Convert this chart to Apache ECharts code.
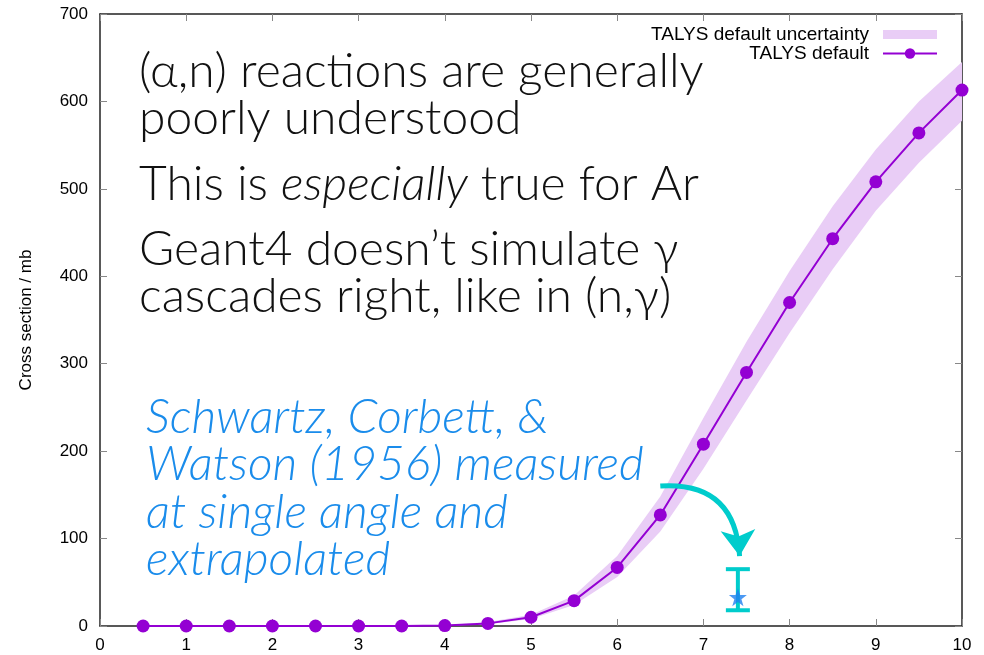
<!DOCTYPE html>
<html>
<head>
<meta charset="utf-8">
<script src="https://cdn.jsdelivr.net/npm/echarts@6/dist/echarts.min.js"></script>
<style>
  html, body { margin: 0; padding: 0; background: #fff; }
  #chart { width: 984px; height: 655px; }
</style>
</head>
<body>
<div id="chart"></div>
<script>
// energies (MeV) and TALYS cross sections (mb)
const energies = [0.5, 1, 1.5, 2, 2.5, 3, 3.5, 4, 4.5, 5, 5.5, 6, 6.5, 7, 7.5, 8, 8.5, 9, 9.5, 10];
const talys = [0, 0, 0, 0, 0, 0, 0, 0.5, 3, 10, 29, 67, 127, 208, 290, 370, 443, 508, 564, 613];
const bandLow = [0, 0, 0, 0, 0, 0, 0, 0.3, 2, 8, 24, 56, 108, 180, 258, 335, 408, 475, 530, 578];
const bandHigh = [0, 0, 0, 0, 0, 0, 0.2, 0.8, 4.5, 13, 35, 80, 148, 238, 325, 406, 480, 545, 600, 645];
// Schwartz, Corbett & Watson point: [energy, value, low, high]
const swPoint = [7.4, 33, 18, 65];
// arrow from the note to the measurement
const arrowPath = [[6.5, 160], [7.42, 80]];
const xTicks = [0, 10, 1];
const yTicks = [0, 700, 100];

const chart = echarts.init(document.getElementById('chart'));

const bandData = energies.map((e, i) => [e, bandLow[i], bandHigh[i]]);
const lineData = energies.map((e, i) => [e, talys[i]]);

const starPath = 'path://M12,0 L14.9,8.1 L23.4,8.1 L16.5,13.1 L19.1,21.2 L12,16.2 L4.9,21.2 L7.5,13.1 L0.6,8.1 L9.1,8.1 Z';
const axisFont = 'Liberation Sans';
const bandColor = '#e9cdf6';
const bigFont = '300 48px Lato';
const bigItalic = 'italic 300 48px Lato';

function axisBase(pos, show) {
  return {
    axisLine: { show: true, onZero: false, lineStyle: { color: '#222', width: 1.5 } },
    axisTick: { show: true, inside: true, length: 7, lineStyle: { color: '#888', width: 1 } },
    axisLabel: { show: show },
    splitLine: { show: false },
    position: pos
  };
}

const option = {
  animation: false,
  backgroundColor: '#fff',
  grid: { left: 100, right: 22, top: 14, bottom: 29 },
  legend: {
    right: 41,
    top: 20,
    orient: 'vertical',
    align: 'right',
    itemGap: 0,
    itemWidth: 54,
    itemHeight: 13,
    textStyle: { fontFamily: axisFont, fontSize: 19, color: '#000', padding: [0, 9, 0, 0] },
    data: [
      { name: 'TALYS default uncertainty', icon: 'path://M0,0 L0,0 M0,2 L54,2 L54,11 L0,11 Z M54,13 L54,13', itemStyle: { color: bandColor } },
      { name: 'TALYS default' }
    ]
  },
  xAxis: [
    Object.assign(axisBase('bottom', true), {
      type: 'value', min: xTicks[0], max: xTicks[1], interval: xTicks[2],
      axisLabel: { color: '#000', fontFamily: axisFont, fontSize: 17, margin: 11 }
    }),
    Object.assign(axisBase('top', false), {
      type: 'value', min: xTicks[0], max: xTicks[1], interval: xTicks[2]
    })
  ],
  yAxis: [
    Object.assign(axisBase('left', true), {
      type: 'value', min: yTicks[0], max: yTicks[1], interval: yTicks[2],
      name: 'Cross section / mb', nameLocation: 'middle', nameGap: 65, nameRotate: 90,
      nameTextStyle: { fontFamily: axisFont, fontSize: 17, color: '#000' },
      axisLabel: { color: '#000', fontFamily: axisFont, fontSize: 17, margin: 12 }
    }),
    Object.assign(axisBase('right', false), {
      type: 'value', min: yTicks[0], max: yTicks[1], interval: yTicks[2]
    })
  ],
  series: [
    {
      name: 'TALYS default uncertainty',
      type: 'custom',
      data: bandData,
      itemStyle: { color: bandColor },
      silent: true,
      renderItem: function (params, api) {
        if (params.dataIndex !== 0) return;
        const upper = bandData.map(d => api.coord([d[0], d[2]]));
        const lower = bandData.map(d => api.coord([d[0], d[1]])).reverse();
        return {
          type: 'polygon',
          shape: { points: upper.concat(lower) },
          style: { fill: bandColor }
        };
      },
      z: 1
    },
    {
      name: 'TALYS default',
      type: 'line',
      data: lineData,
      symbol: 'circle',
      symbolSize: 13,
      lineStyle: { color: '#9400d3', width: 2 },
      itemStyle: { color: '#9400d3' },
      z: 3
    },
    {
      name: 'arrow',
      type: 'lines',
      coordinateSystem: 'cartesian2d',
      polyline: false,
      symbol: ['none', 'arrow'],
      symbolSize: 26,
      lineStyle: { color: '#00cccc', width: 5, curveness: 0.5, opacity: 1 },
      data: [{ coords: arrowPath }],
      z: 4
    },
    {
      name: 'errbar',
      type: 'custom',
      data: [swPoint],
      renderItem: function (params, api) {
        const lo = api.coord([api.value(0), api.value(2)]);
        const hi = api.coord([api.value(0), api.value(3)]);
        const st = { stroke: '#00cccc', lineWidth: 4 };
        return {
          type: 'group',
          children: [
            { type: 'line', shape: { x1: lo[0], y1: lo[1], x2: hi[0], y2: hi[1] }, style: st },
            { type: 'line', shape: { x1: lo[0] - 12, y1: lo[1], x2: lo[0] + 12, y2: lo[1] }, style: st },
            { type: 'line', shape: { x1: hi[0] - 12, y1: hi[1], x2: hi[0] + 12, y2: hi[1] }, style: st }
          ]
        };
      },
      z: 4
    },
    {
      name: 'Schwartz',
      type: 'scatter',
      data: [[swPoint[0], swPoint[1]]],
      symbol: starPath,
      symbolSize: 18,
      itemStyle: { color: '#1e7ff0' },
      z: 5
    }
  ],
  graphic: [
    { type: 'text', x: 139, y: 72, style: { text: '(α,n) reactions are generally', font: bigFont, fill: '#111', verticalAlign: 'middle' } },
    { type: 'text', x: 139, y: 119, style: { text: 'poorly understood', font: bigFont, fill: '#111', verticalAlign: 'middle' } },
    {
      type: 'text', x: 139, y: 185,
      style: {
        text: 'This is {i|especially} true for Ar', font: bigFont, fill: '#111', verticalAlign: 'middle',
        rich: { i: { font: bigItalic, fill: '#111' } }
      }
    },
    { type: 'text', x: 139, y: 250, style: { text: 'Geant4 doesn’t simulate γ', font: bigFont, fill: '#111', verticalAlign: 'middle' } },
    { type: 'text', x: 139, y: 297, style: { text: 'cascades right, like in (n,γ)', font: bigFont, fill: '#111', verticalAlign: 'middle' } },
    { type: 'text', x: 146, y: 418, style: { text: 'Schwartz, Corbett, &', font: bigItalic, fill: '#1a8ceb', verticalAlign: 'middle' } },
    { type: 'text', x: 146, y: 465, style: { text: 'Watson (1956) measured', font: bigItalic, fill: '#1a8ceb', verticalAlign: 'middle' } },
    { type: 'text', x: 146, y: 513, style: { text: 'at single angle and', font: bigItalic, fill: '#1a8ceb', verticalAlign: 'middle' } },
    { type: 'text', x: 146, y: 560, style: { text: 'extrapolated', font: bigItalic, fill: '#1a8ceb', verticalAlign: 'middle' } }
  ]
};

chart.setOption(option);
</script>
</body>
</html>
